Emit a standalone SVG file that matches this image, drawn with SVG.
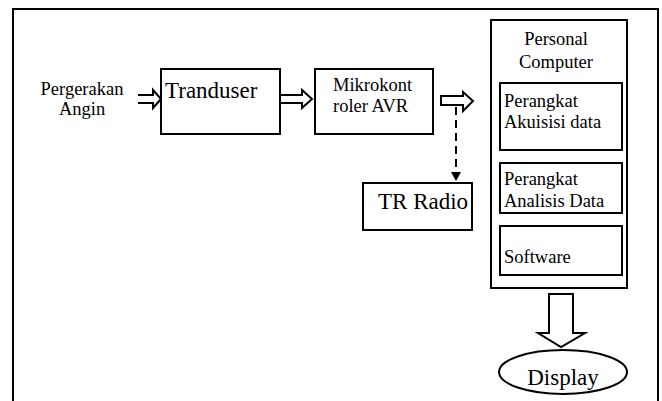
<svg xmlns="http://www.w3.org/2000/svg" width="662" height="401" viewBox="0 0 662 401">
<style>
.box{fill:#fff;stroke:#000;stroke-width:2}
.ln{fill:none;stroke:#000;stroke-width:2}
.arr{fill:#fff;stroke:#000;stroke-width:2;stroke-linejoin:miter}
text{font-family:"Liberation Serif","Times New Roman",serif;fill:#000}
.s{font-size:18.5px}
.l{font-size:23px}
</style>
<defs>
<marker id="tri" viewBox="0 0 10 10" refX="5" refY="10" markerWidth="10" markerHeight="10" markerUnits="userSpaceOnUse" orient="auto">
<path d="M0,0 L10,0 L5,10 Z" fill="#000"/>
</marker>
</defs>
<rect width="662" height="401" fill="#fff"/>
<path class="ln" d="M13,401 V9 H658 V401"/>
<g id="connectors">
<path class="ln" d="M138,95 H153 V90 L161,99 L153,108 V103 H138"/>
<path class="arr" d="M280,95 H302 V90 L312,99 L302,108 V103 H280"/>
<path class="arr" d="M441,96 H463 V92 L473,101 L463,111 V105 H441 Z"/>
<line x1="456" y1="107" x2="456" y2="172" stroke="#000" stroke-width="2" stroke-dasharray="8,5"/>
<path d="M451,172 L461,172 L456,181 Z" fill="#000"/>
<path class="arr" d="M549,294 H573 V333 H585 L561,347 L538,333 H549 Z"/>
</g>
<g id="input">
<text class="s" x="82" y="95" text-anchor="middle">Pergerakan</text>
<text class="s" x="82" y="115" text-anchor="middle">Angin</text>
</g>
<g id="tranduser">
<rect class="box" x="161" y="69" width="119" height="65"/>
<text class="l" x="165" y="98">Tranduser</text>
</g>
<g id="mikrokontroler">
<rect class="box" x="315" y="69" width="118" height="65"/>
<text class="s" x="333" y="91">Mikrokont</text>
<text class="s" x="333" y="112">roler AVR</text>
</g>
<g id="tr-radio">
<rect class="box" x="363" y="183" width="109" height="47"/>
<text class="l" x="378" y="209">TR Radio</text>
</g>
<g id="personal-computer">
<rect class="box" x="491" y="20" width="136" height="268"/>
<text class="s" x="556" y="45" text-anchor="middle">Personal</text>
<text class="s" x="556" y="68" text-anchor="middle">Computer</text>
</g>
<g id="akuisisi">
<rect class="box" x="500" y="83" width="122" height="67"/>
<text class="s" x="504" y="107">Perangkat</text>
<text class="s" x="504" y="128">Akuisisi data</text>
</g>
<g id="analisis">
<rect class="box" x="500" y="163" width="122" height="50"/>
<text class="s" x="504" y="185">Perangkat</text>
<text class="s" x="504" y="207">Analisis Data</text>
</g>
<g id="software">
<rect class="box" x="500" y="226" width="122" height="49"/>
<text class="s" x="504" y="263">Software</text>
</g>
<g id="display">
<ellipse class="box" cx="563" cy="372" rx="64" ry="22"/>
<text class="l" x="563" y="385" text-anchor="middle">Display</text>
</g>
</svg>
